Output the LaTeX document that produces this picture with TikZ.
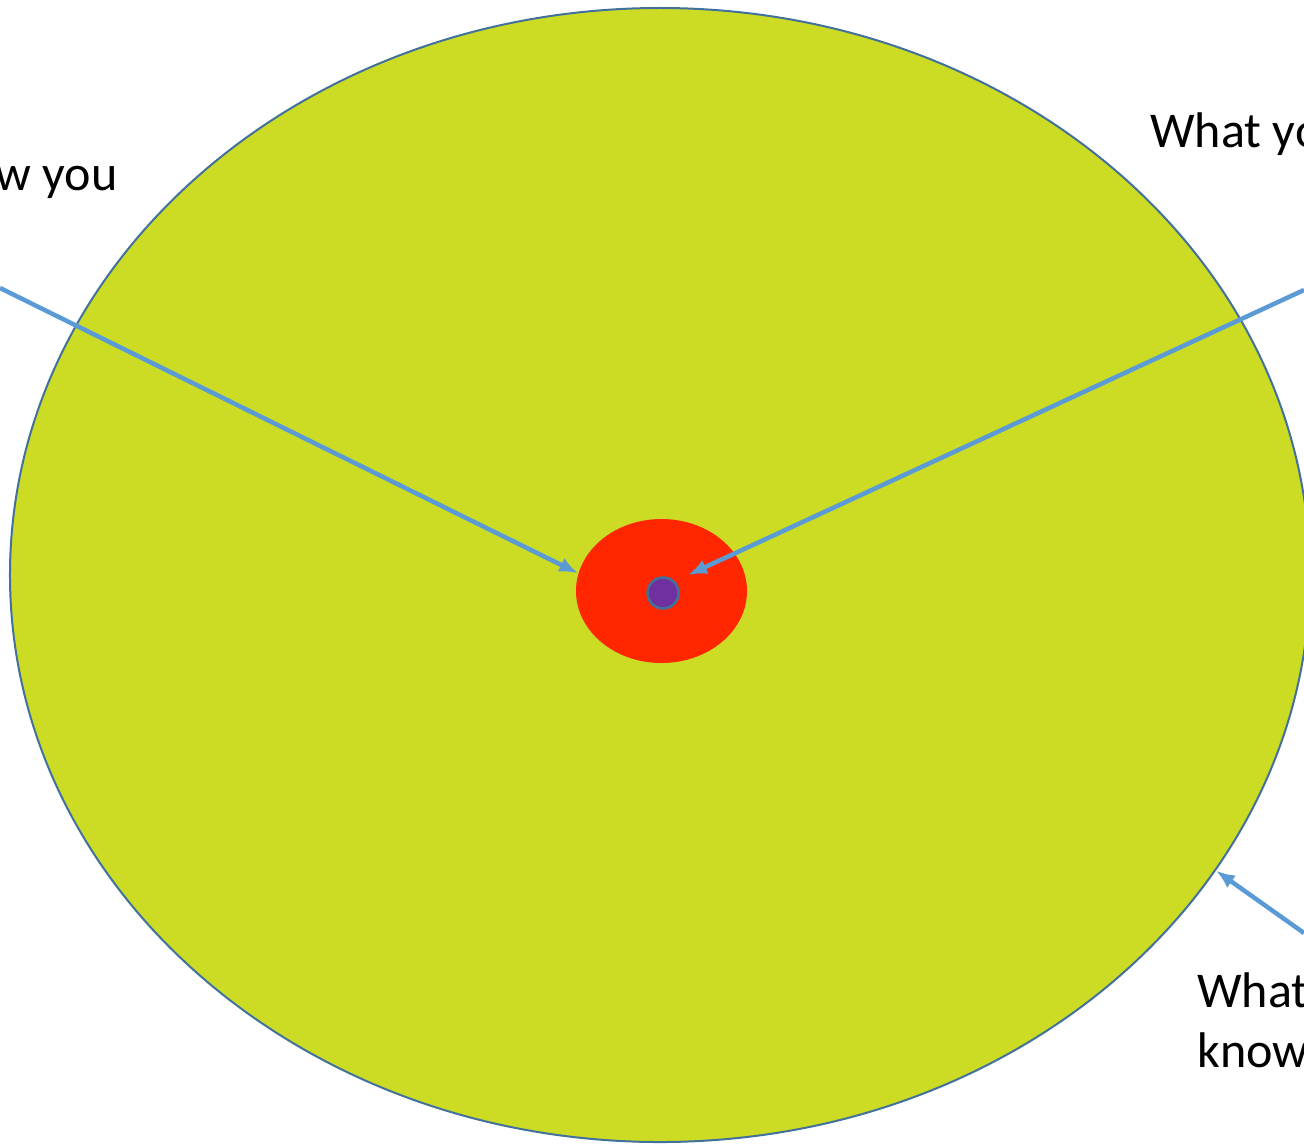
\documentclass[tikz,border=0pt]{standalone}
\usepackage{fontspec}
\setmainfont{Carlito}
\usetikzlibrary{shapes.geometric,arrows.meta}
\definecolor{limefill}{RGB}{204,219,36}
\definecolor{rimblue}{RGB}{65,113,156}
\definecolor{arrowblue}{RGB}{91,155,213}
\definecolor{corered}{RGB}{255,38,0}
\definecolor{dotpurple}{RGB}{112,48,160}
\begin{document}
\begin{tikzpicture}[x=0.2mm, y=-0.2mm,
  pointer/.style={-{Latex[length=3.8mm,width=3mm]}, line width=0.9mm, arrowblue},
  caption/.style={font=\fontsize{28.5}{34}\selectfont, inner sep=0pt, align=left}]
  % canvas
  \useasboundingbox (0,0) rectangle (1304,1144);
  \clip (0,0) rectangle (1304,1144);

  % Circles of knowledge
  \node[ellipse, draw=rimblue, line width=0.4mm, fill=limefill, inner sep=0pt,
    minimum width=260mm, minimum height=226.8mm] (outer) at (660,575) {};
  \node[ellipse, fill=corered, inner sep=0pt,
    minimum width=34.2mm, minimum height=28.8mm] (core) at (661.5,591) {};
  \node[circle, draw=rimblue, line width=0.5mm, fill=dotpurple, inner sep=0pt,
    minimum size=6.2mm] (dot) at (663,593) {};

  % Labels
  \node[caption, anchor=base east] (known) at (118,190) {w you};
  \node[caption, anchor=base west] (unknown) at (1150,147) {What yo};
  \node[caption, anchor=base west] (unknowable) at (1197,1067) {What\\know};

  % Pointers
  \coordinate (fromknown) at (0,288);
  \coordinate (fromunknown) at (1304,290);
  \coordinate (fromunknowable) at (1304,933);
  \coordinate (intocore) at (688,575);
  \draw[pointer] (fromknown) -- (core.168);
  \draw[pointer] (fromunknown) -- (intocore);
  \draw[pointer] (fromunknowable) -- (outer.-28.2);
\end{tikzpicture}
\end{document}
